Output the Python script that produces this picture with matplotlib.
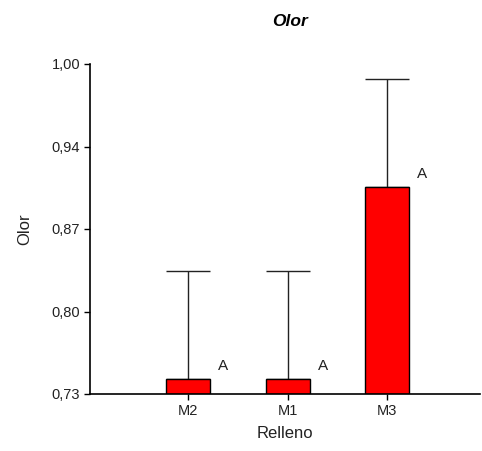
import numpy as np
import matplotlib
matplotlib.use("Agg")
import matplotlib.pyplot as plt

# data
categories = ["M2", "M1", "M3"]
means = [0.7423, 0.7423, 0.8994]
upper = [0.8307, 0.8307, 0.9878]
letters = ["A", "A", "A"]
ytick_values = [0.73, 0.7975, 0.865, 0.9325, 1.00]
ytick_labels = ["0,73", "0,80", "0,87", "0,94", "1,00"]

plt.rcParams['font.family'] = ['Liberation Sans', 'DejaVu Sans']

fig = plt.figure(figsize=(4.82, 4.51), dpi=100)
ax = fig.add_axes([90 / 482, 1 - 394 / 451, 390 / 482, 330 / 451])

x = np.arange(len(categories))
base = ytick_values[0]
heights = np.array(means) - base
err = np.array(upper) - np.array(means)

ax.bar(x, heights, bottom=base, width=0.44, color="#ff0000",
       edgecolor="black", linewidth=1.0, zorder=2)
ax.errorbar(x, means, yerr=[np.zeros_like(err), err], fmt="none",
            ecolor="#222222", elinewidth=1.0, capsize=15.5, capthick=1.0, zorder=1)

for xi, m, lab in zip(x, means, letters):
    ax.text(xi + 0.3, m + 0.005, lab, fontsize=11, ha="left", va="bottom",
            color="#222222")

ax.set_xlim(-0.985, 2.93)
ax.set_ylim(ytick_values[0], ytick_values[-1])
ax.set_yticks(ytick_values)
ax.set_yticklabels(ytick_labels, fontsize=10.5, color="#222222")
ax.set_xticks(x)
ax.set_xticklabels(categories, fontsize=10.5, color="#222222")

for side in ["top", "right"]:
    ax.spines[side].set_visible(False)
ax.spines["left"].set_linewidth(1.2)
ax.spines["bottom"].set_linewidth(1.2)
ax.tick_params(axis="both", length=4, width=1.0, pad=3)

ax.set_ylabel("Olor", fontsize=12, color="#222222", labelpad=14)
ax.set_xlabel("Relleno", fontsize=12, color="#222222", labelpad=6)
ax.set_title("Olor", fontsize=12.5, fontweight="bold", fontstyle="italic",
             pad=27, x=(290 - 90) / 390)

fig.savefig("out.png", dpi=100)
